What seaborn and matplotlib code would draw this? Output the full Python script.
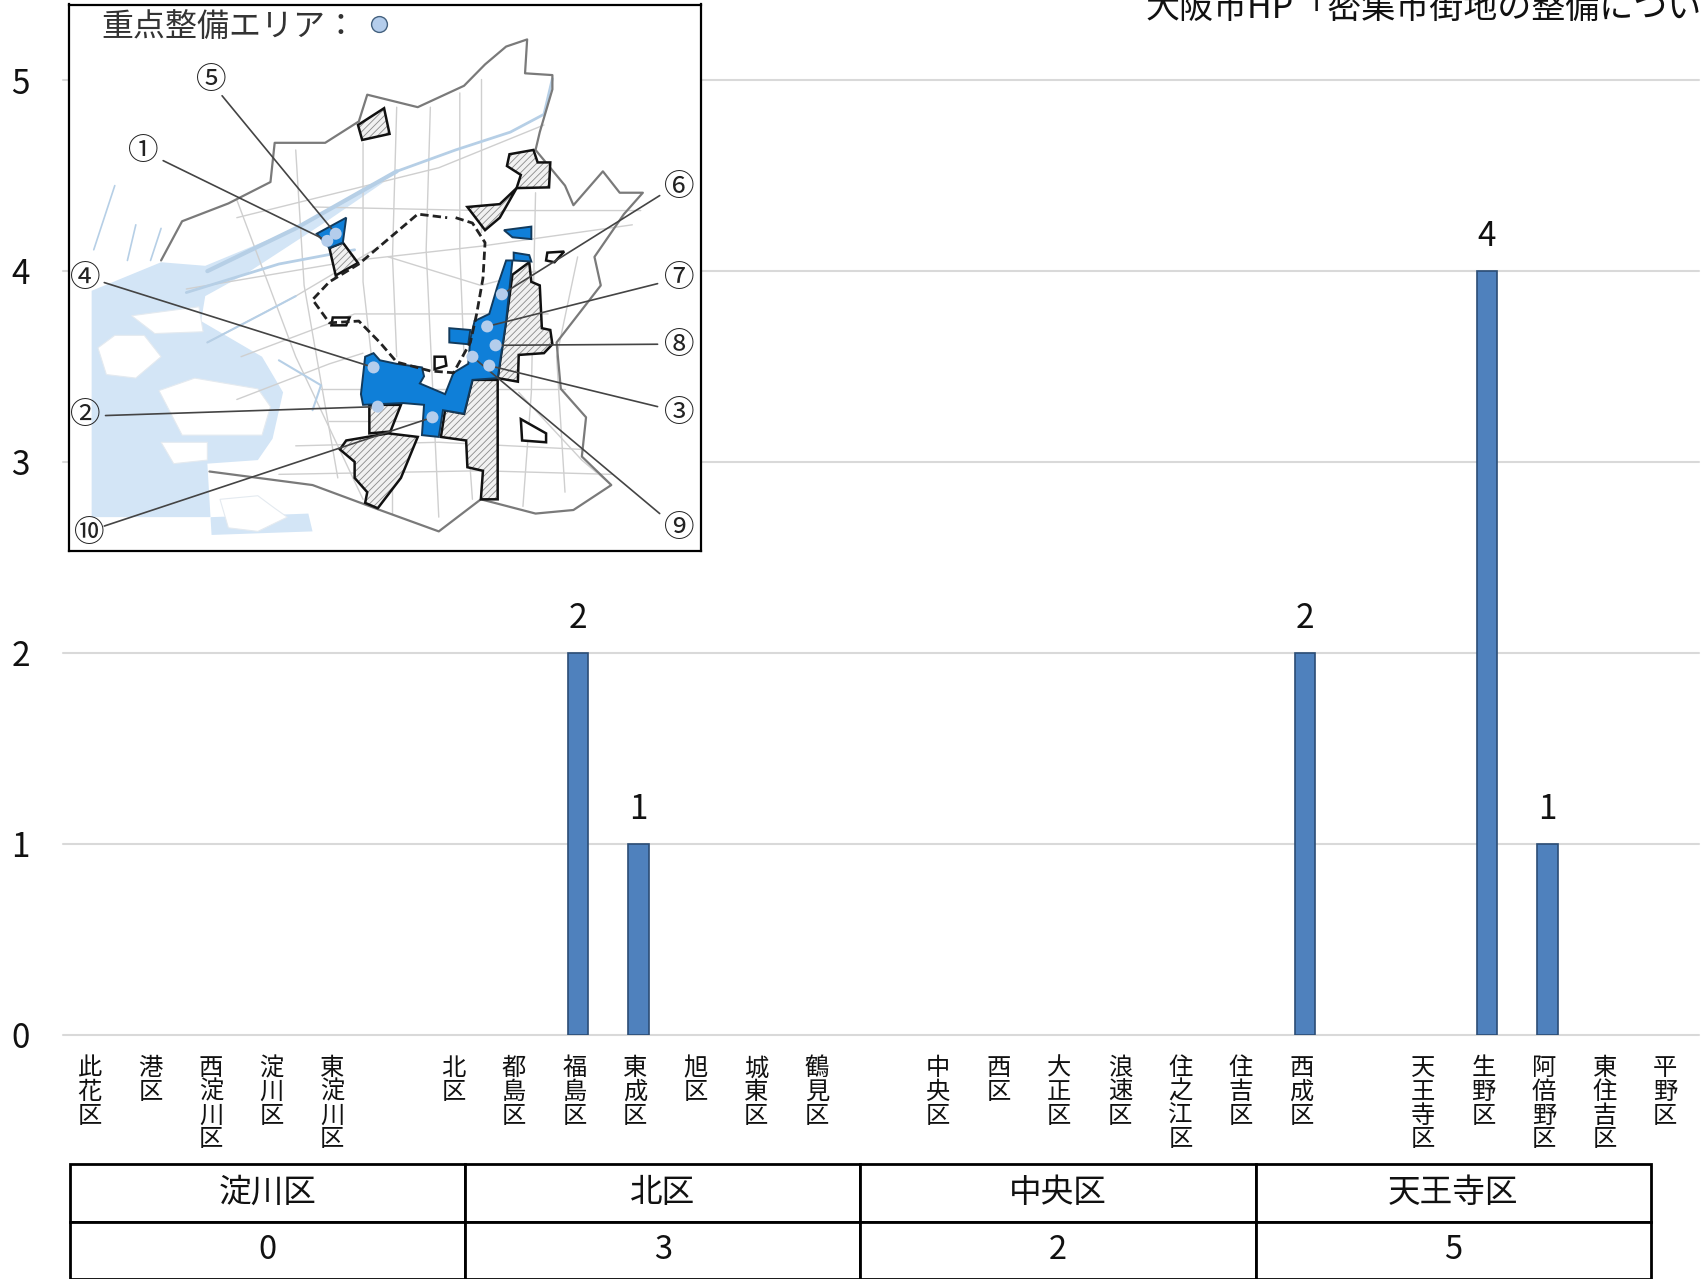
"""大阪市 密集市街地 区別件数の棒グラフ + 地図インセット + 集計表"""
import matplotlib
matplotlib.use("Agg")
import matplotlib.pyplot as plt
from matplotlib.patches import Polygon
from matplotlib.transforms import ScaledTranslation
import pandas as pd
import seaborn as sns

W, H = 1708, 1279
DPI = 100

# ── データ ──
districts = ["此花区", "港区", "西淀川区", "淀川区", "東淀川区", " ",
             "北区", "都島区", "福島区", "東成区", "旭区", "城東区", "鶴見区", "  ",
             "中央区", "西区", "大正区", "浪速区", "住之江区", "住吉区", "西成区", "   ",
             "天王寺区", "生野区", "阿倍野区", "東住吉区", "平野区"]
counts = [0, 0, 0, 0, 0, None,
          0, 0, 2, 1, 0, 0, 0, None,
          0, 0, 0, 0, 0, 0, 2, None,
          0, 4, 1, 0, 0]
area_names = ["淀川区", "北区", "中央区", "天王寺区"]
area_totals = ["0", "3", "2", "5"]
y_ticks = [0, 1, 2, 3, 4, 5]
source_text = "大阪市HP「密集市街地の整備について」"

BAR_COLOR = "#4f81bd"
BAR_EDGE = "#2c4d75"
GRID_COLOR = "#d9d9d9"

# ── 地図（参照画像の座標で概形をなぞる）──
MAP_BLUE = "#0f7fd8"
WATER = "#d3e5f6"
water_poly = [(75, 815), (240, 735), (345, 745), (560, 640), (745, 515), (770, 510),
              (640, 615), (445, 765), (345, 830), (335, 900), (480, 1000), (530, 1100),
              (505, 1230), (470, 1290), (350, 1300), (360, 1500), (600, 1490), (590, 1440),
              (360, 1450), (75, 1450)]
islands = [
    [(170, 885), (330, 860), (340, 930), (225, 935)],
    [(90, 975), (130, 940), (200, 940), (240, 1000), (180, 1060), (110, 1050)],
    [(235, 1095), (320, 1060), (470, 1090), (500, 1140), (480, 1220), (290, 1220)],
    [(240, 1240), (350, 1240), (350, 1290), (270, 1300)],
    [(380, 1400), (470, 1390), (510, 1425), (540, 1450), (470, 1490), (400, 1480)],
]
city_outline = [(240, 730), (290, 620), (400, 570), (500, 510), (510, 400), (630, 400),
                (710, 340), (730, 265), (850, 300), (960, 240), (1010, 180), (1060, 130),
                (1110, 110), (1105, 205), (1170, 210), (1170, 250), (1140, 370), (1130, 420),
                (1200, 520), (1220, 575), (1290, 480), (1330, 540), (1385, 540), (1340, 600),
                (1270, 720), (1285, 800), (1180, 960), (1190, 1090), (1250, 1170), (1240, 1280),
                (1310, 1360), (1220, 1430), (1130, 1440), (1000, 1400), (900, 1490), (760, 1430),
                (600, 1360), (355, 1322)]
roads = [
    [(420, 560), (560, 1000), (720, 1400)], [(560, 420), (580, 800), (660, 1340)],
    [(720, 400), (720, 790), (740, 1000)], [(880, 300), (870, 700), (900, 1450)],
    [(1000, 220), (1000, 650)], [(1130, 540), (1120, 1100), (1100, 1420)],
    [(1230, 720), (1180, 1000), (1200, 1380)], [(300, 810), (700, 730), (1000, 690), (1360, 630)],
    [(420, 610), (900, 470), (1150, 350)], [(600, 580), (1000, 590), (1380, 590)],
    [(430, 1000), (700, 880), (1160, 880)], [(560, 1250), (900, 1240), (1240, 1260)],
    [(520, 1330), (1000, 1320), (1310, 1330)], [(350, 960), (560, 830), (760, 690)],
    [(620, 1090), (1000, 1090), (1200, 1090)], [(1090, 1100), (1240, 1290), (1300, 1350)],
    [(800, 300), (790, 720), (800, 1000)], [(950, 260), (950, 700), (960, 1000)],
    [(420, 1120), (640, 1020), (720, 990)], [(780, 720), (1000, 800), (1130, 760)],
    [(790, 1240), (790, 1440)], [(970, 1240), (980, 1400)], [(640, 1180), (860, 1180)],
]
rivers = [
    ([(350, 760), (560, 640), (800, 480)], 3),
    ([(800, 480), (940, 420), (1070, 370), (1150, 320), (1170, 220)], 2),
    ([(300, 820), (520, 740), (700, 700)], 2),
    ([(350, 960), (480, 880), (560, 830)], 1.5),
    ([(520, 1010), (620, 1080), (600, 1150)], 1.5),
    ([(130, 520), (80, 700)], 1.2),
    ([(180, 630), (160, 730)], 1.2),
    ([(240, 640), (215, 730)], 1.2),
]
loop_line = [(940, 610), (980, 625), (1010, 680), (1005, 780), (990, 880), (975, 960),
             (935, 1045), (880, 1040), (800, 1015), (760, 960), (710, 900), (640, 905),
             (600, 840), (640, 790), (710, 740), (770, 680), (850, 600), (920, 610)]
hatched_areas = [
    [(708, 350), (770, 303), (783, 375), (718, 392)],
    [(1068, 432), (1125, 420), (1135, 455), (1165, 455), (1162, 525), (1085, 527), (1095, 490), (1062, 465)],
    [(968, 580), (1045, 572), (1085, 527), (1045, 610), (1010, 645)],
    [(1075, 770), (1115, 735), (1120, 790), (1140, 800), (1145, 920), (1165, 925), (1170, 965),
     (1150, 990), (1090, 995), (1088, 1070), (1040, 1060), (1060, 900)],
    [(980, 1065), (1040, 1065), (1040, 1400), (1000, 1400), (1005, 1320), (968, 1310), (965, 1235),
     (905, 1225), (915, 1150), (960, 1160)],
    [(850, 1225), (810, 1340), (755, 1425), (725, 1410), (730, 1380), (700, 1340), (700, 1295),
     (665, 1260), (680, 1235), (780, 1215)],
    [(735, 1135), (810, 1135), (785, 1210), (735, 1215)],
    [(640, 695), (672, 680), (708, 737), (655, 772)],
]
open_areas = [
    [(1095, 1175), (1155, 1215), (1155, 1240), (1098, 1235)],
    [(1158, 708), (1198, 705), (1175, 735), (1155, 730)],
    [(648, 890), (688, 890), (680, 912), (645, 912)],
    [(890, 1000), (915, 1000), (918, 1025), (890, 1035)],
]
blue_areas = [
    [(1060, 730), (1075, 730), (1060, 900), (1040, 1060), (980, 1065), (960, 1160), (910, 1150),
     (900, 1225), (860, 1220), (865, 1135), (815, 1130), (720, 1135), (715, 1105), (725, 1000),
     (745, 990), (760, 1010), (800, 1020), (860, 1030), (865, 1055), (855, 1075), (915, 1105),
     (935, 1045), (970, 1020), (975, 950), (985, 900), (1020, 880), (1040, 800)],
    [(925, 920), (975, 925), (970, 965), (925, 960)],
    [(1055, 645), (1120, 635), (1120, 670), (1075, 665)],
    [(1078, 708), (1115, 715), (1120, 733), (1078, 730)],
    [(610, 655), (680, 610), (672, 680), (640, 695)],
]
# 番号, 文字位置, 引出線の始点, 終点（青丸）
callouts = [
    ("⑤", (360, 225), (385, 268), (655, 655)),
    ("①", (197, 425), (245, 450), (635, 675)),
    ("④", (60, 782), (105, 792), (745, 1030)),
    ("②", (60, 1165), (108, 1165), (755, 1140)),
    ("⑩", (70, 1495), (105, 1475), (885, 1170)),
    ("⑥", (1472, 525), (1425, 548), (1050, 825)),
    ("⑦", (1472, 782), (1420, 795), (1015, 915)),
    ("⑧", (1472, 968), (1420, 965), (1035, 968)),
    ("③", (1472, 1160), (1420, 1140), (1020, 1025)),
    ("⑨", (1472, 1482), (1425, 1440), (980, 1000)),
]

sns.set_theme(style="white")
plt.rcParams["font.family"] = ["Noto Sans CJK JP", "DejaVu Sans"]
plt.rcParams["hatch.linewidth"] = 0.6
plt.rcParams["hatch.color"] = "#8a8a8a"


def px_axes(fig, left, top, right, bottom, **kwargs):
    """ピクセル指定で axes を作る"""
    return fig.add_axes([left / W, 1 - bottom / H, (right - left) / W, (bottom - top) / H], **kwargs)


fig = plt.figure(figsize=(W / DPI, H / DPI), dpi=DPI, facecolor="white")

# ── 棒グラフ ──
ax = px_axes(fig, 63, 80, 1699, 1034.5)
df = pd.DataFrame({"district": districts, "count": counts})
sns.barplot(data=df, x="district", y="count", order=districts, color=BAR_COLOR, width=0.34,
            saturation=1, edgecolor=BAR_EDGE, linewidth=1.2, ax=ax, zorder=3)
ax.set_xlim(-0.5, len(districts) - 0.5)
ax.set_ylim(0, 5)
ax.set_xlabel("")
ax.set_ylabel("")
ax.set_yticks(y_ticks)
ax.set_xticks(range(len(districts)))
ax.set_xticklabels(["\n".join(d.strip()) for d in districts], fontsize=17.5, linespacing=0.88,
                   color="#111111", va="top")
ax.tick_params(axis="x", length=0, pad=15)
ax.tick_params(axis="y", length=0, pad=24, labelsize=24, labelcolor="#111111")
offset = ScaledTranslation(-3.5 / DPI, 0, fig.dpi_scale_trans)
for label in ax.get_xticklabels():
    label.set_transform(label.get_transform() + offset)
ax.grid(axis="y", color=GRID_COLOR, linewidth=1.5, zorder=0)
ax.grid(axis="x", visible=False)
ax.set_axisbelow(True)
sns.despine(ax=ax, left=True, bottom=True)
ax.tick_params(axis="both", which="both", bottom=False, left=False)
for item in ax.get_ygridlines():
    item.set_clip_on(False)

# 値ラベル（0 は表示しない）、高さ 0 の棒は枠線も消す
for container in ax.containers:
    values = container.datavalues
    labels = [f"{v:.0f}" if v > 0 else "" for v in values]
    ax.bar_label(container, labels=labels, padding=12, fontsize=24, color="#111111")
    for patch, v in zip(container.patches, values):
        if not v > 0:
            patch.set_visible(False)

# ── 地図インセット ──
map_ax = px_axes(fig, 68.5, 4.5, 700.5, 551, zorder=5)
map_ax.set_xlim(20, 1522)
map_ax.set_ylim(1545, 12)
map_ax.set_xticks([])
map_ax.set_yticks([])
map_ax.set_facecolor("white")
for spine in map_ax.spines.values():
    spine.set_linewidth(1.6)
    spine.set_color("black")
map_ax.add_patch(Polygon(water_poly, facecolor=WATER, edgecolor="none", zorder=1))
for poly in islands:
    map_ax.add_patch(Polygon(poly, facecolor="white", edgecolor="#e4eaf0", linewidth=0.8, zorder=2))
for road in roads:
    map_ax.plot(*zip(*road), color="#cfcfcf", linewidth=1.0, zorder=3)
for river, lw in rivers:
    map_ax.plot(*zip(*river), color="#b6cfe6", linewidth=lw, zorder=3)
map_ax.plot(*zip(*city_outline), color="#7a7a7a", linewidth=1.6, zorder=4)
for poly in hatched_areas:
    map_ax.add_patch(Polygon(poly, facecolor="#f1f1f1", edgecolor="#8a8a8a", hatch="/////", linewidth=0, zorder=5))
    map_ax.add_patch(Polygon(poly, fill=False, edgecolor="#111111", linewidth=1.8, zorder=6))
for poly in open_areas:
    map_ax.add_patch(Polygon(poly, facecolor="white", edgecolor="#111111", linewidth=1.8, zorder=6))
for poly in blue_areas:
    map_ax.add_patch(Polygon(poly, facecolor=MAP_BLUE, edgecolor="#123a5c", linewidth=1.4, zorder=7))
map_ax.plot(*zip(*loop_line), color="#222222", linewidth=2, linestyle=(0, (3, 1.5)), zorder=8)
for num, text_xy, start, end in callouts:
    map_ax.plot([start[0], end[0]], [start[1], end[1]], color="#444444", linewidth=1.2, zorder=9)
    map_ax.scatter(*end, s=75, color="#b4cdec", edgecolor="none", zorder=10)
    map_ax.text(*text_xy, num, fontsize=22, ha="center", va="center", color="#222222", zorder=11)
map_ax.text(98, 76, "重点整備エリア：", fontsize=23, ha="left", va="center", color="#333333", zorder=11)
map_ax.scatter(758, 66, s=130, color="#b4cdec", edgecolor="#44617f", linewidth=1, zorder=11)

# ── 集計表 ──
table_ax = px_axes(fig, 70, 1164, 1651, 1279, zorder=4)
table_ax.axis("off")
table = table_ax.table(cellText=[area_names, area_totals], cellLoc="center", bbox=[0, 0, 1, 1])
table.auto_set_font_size(False)
for cell in table.get_celld().values():
    cell.set_linewidth(2)
    cell.set_edgecolor("black")
    cell.get_text().set_fontsize(23.5)
    cell.get_text().set_color("#111111")

# ── 出典（上端と右端で切れている）──
fig.text(1146 / W, 1 - 18 / H, source_text, fontsize=24.5, ha="left", va="baseline", color="#111111")

fig.savefig("out.png", dpi=DPI)
plt.close(fig)
